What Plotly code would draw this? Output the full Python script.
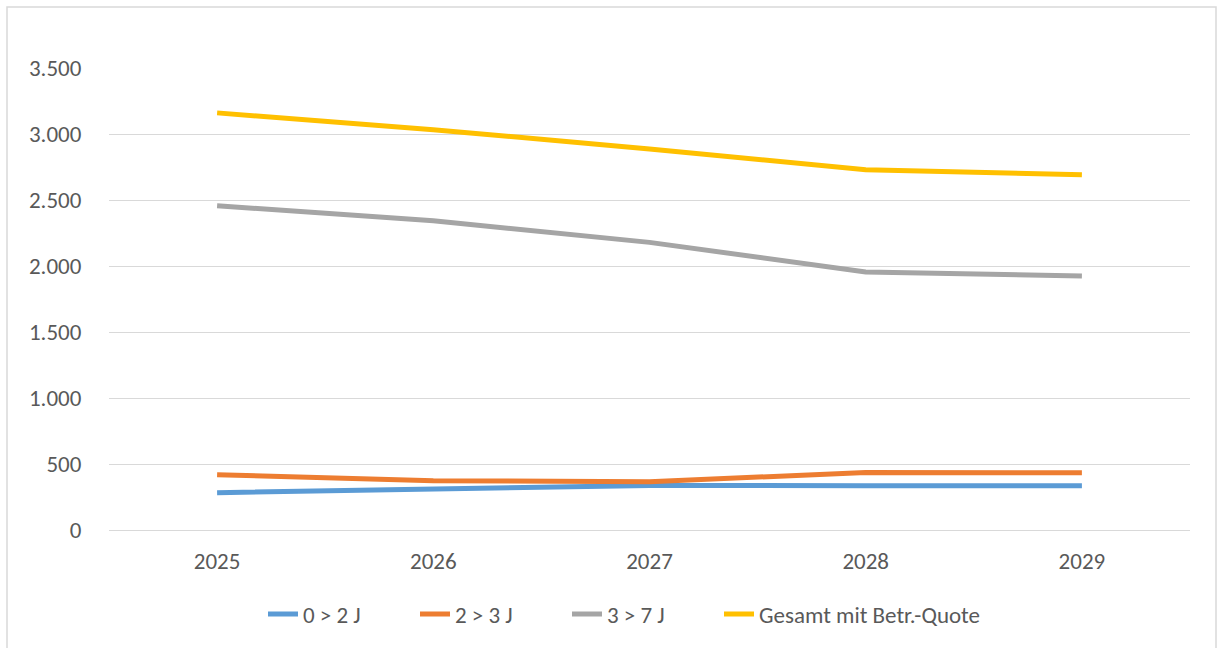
import plotly.graph_objects as go

years = ["2025", "2026", "2027", "2028", "2029"]
s_0_2 = [283, 311, 338, 336, 336]
s_2_3 = [419, 373, 366, 436, 434]
s_3_7 = [2457, 2343, 2179, 1955, 1924]
s_total = [3160, 3033, 2886, 2730, 2692]

names = ["0 > 2 J", "2 > 3 J", "3 > 7 J", "Gesamt mit Betr.-Quote"]
colors = ["#5B9BD5", "#ED7D31", "#A5A5A5", "#FFC000"]
series = [s_0_2, s_2_3, s_3_7, s_total]
legend_text_x = [303, 455, 607, 759]  # pixel position of legend text start

FONT = "Carlito, Lato, 'Open Sans', sans-serif"
FS = 23

W, H = 1217, 648
L, R, T, B = 109, 27, 68, 118
pw = W - L - R
ph = H - T - B

fig = go.Figure()
legend_ids = ["legend", "legend2", "legend3", "legend4"]
for n, c, s, lid in zip(names, colors, series, legend_ids):
    fig.add_trace(go.Scatter(x=years, y=s, name=n, mode="lines",
                             line=dict(color=c, width=5), legend=lid))

def px_x(p):
    return (p - L) / pw

def px_y(p):
    return (H - B - p) / ph

legend_common = dict(orientation="h", xref="container", yref="container", xanchor="left",
                     y=(H - 614) / H, yanchor="middle",
                     font=dict(size=FS, color="#595959"), bgcolor="rgba(0,0,0,0)")

layout_legends = {}
for lid, tx in zip(legend_ids, legend_text_x):
    layout_legends[lid] = dict(legend_common, x=(tx - 40) / W)

fig.update_layout(
    width=W, height=H,
    margin=dict(l=L, r=R, t=T, b=B),
    paper_bgcolor="white", plot_bgcolor="white",
    separators=",.",
    font=dict(family=FONT, size=FS, color="#595959"),
    xaxis=dict(type="category", range=[-0.5, 4.5], showgrid=False, showline=False,
               zeroline=False, ticks="outside", ticklen=10, tickcolor="rgba(0,0,0,0)",
               tickfont=dict(size=FS, color="#595959")),
    yaxis=dict(range=[0, 3500], dtick=500, tickformat=",d", showgrid=True,
               gridcolor="#D9D9D9", gridwidth=1.3, zeroline=True, zerolinecolor="#D9D9D9",
               zerolinewidth=1.3, showline=False, ticks="outside", ticklen=22,
               tickcolor="rgba(0,0,0,0)", tickfont=dict(size=FS, color="#595959")),
    showlegend=True,
    shapes=[dict(type="rect", xref="paper", yref="paper",
                 x0=px_x(7), x1=px_x(1216), y0=px_y(660), y1=px_y(7),
                 line=dict(color="#D9D9D9", width=1.5), fillcolor="rgba(0,0,0,0)",
                 layer="below")],
    **layout_legends,
)

fig.write_html("out.html", config={"displayModeBar": False},
               post_script="document.body.style.margin='0';document.body.style.padding='0';")
